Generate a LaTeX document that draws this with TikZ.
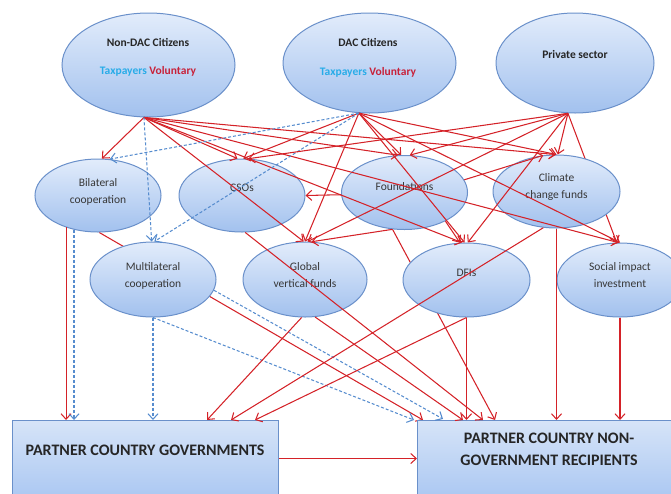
\documentclass[tikz,border=0pt]{standalone}
\usepackage{fontspec}
\setmainfont{Carlito}
\usetikzlibrary{shapes.geometric,arrows.meta,calc}
\pgfdeclarelayer{background}
\pgfsetlayers{background,main}
\definecolor{lred}{RGB}{212,34,40}
\definecolor{lblue}{RGB}{86,140,206}
\definecolor{eborder}{RGB}{106,144,202}
\definecolor{etop}{RGB}{226,236,251}
\definecolor{ebot}{RGB}{162,193,238}
\definecolor{btop}{RGB}{214,228,248}
\definecolor{bbot}{RGB}{172,200,242}
\definecolor{taxc}{RGB}{40,172,232}
\definecolor{volc}{RGB}{200,34,58}
\definecolor{txtc}{RGB}{55,55,55}
\tikzset{
  oval/.style={ellipse, draw=eborder, line width=1pt, top color=etop, bottom color=ebot, inner sep=0pt},
  pbox/.style={rectangle, draw=eborder, line width=1pt, top color=btop, bottom color=bbot, inner sep=0pt, anchor=north west},
  lbl/.style={font=\fontsize{11.5}{17}\selectfont, text=txtc, align=center},
  ttl/.style={font=\bfseries\fontsize{11.5}{14}\selectfont, text=black!85},
  big/.style={font=\bfseries\fontsize{16}{22}\selectfont, text=black!85, align=center},
  vol/.style={draw=lred, line width=1.05pt, -{Straight Barb[length=5.5pt,width=10pt]}},
  tax/.style={draw=lblue, line width=1.05pt, dash pattern=on 3pt off 2pt, -{Straight Barb[length=5.5pt,width=10pt]}},
}
\begin{document}
\begin{tikzpicture}[x=1pt,y=-1pt]
\useasboundingbox (0,0) rectangle (671,493);
% top row
\node[oval, minimum width=173pt, minimum height=104pt] (nd) at (148.5,65) {};
\node[oval, minimum width=173pt, minimum height=100pt] (dac) at (369.5,63) {};
\node[oval, minimum width=158pt, minimum height=100pt] (prv) at (575,63) {};
\node[ttl] (ndt1) at (148,42) {Non-DAC Citizens};
\node[ttl] (ndt2) at (148,71) {\textcolor{taxc}{Taxpayers} \textcolor{volc}{Voluntary}};
\node[ttl] (dact1) at (368,42) {DAC Citizens};
\node[ttl] (dact2) at (368,72) {\textcolor{taxc}{Taxpayers} \textcolor{volc}{Voluntary}};
\node[ttl] (prvt) at (575,55) {Private sector};
% middle row 1
\node[oval, minimum width=126pt, minimum height=73pt] (bil) at (98,195.5) {};
\node[oval, minimum width=126pt, minimum height=73pt] (cso) at (242,195.5) {};
\node[oval, minimum width=126pt, minimum height=74pt] (fnd) at (404.5,192.5) {};
\node[oval, minimum width=127pt, minimum height=73pt] (clim) at (556.5,191.5) {};
\node[lbl] (bilt) at (98,191.5) {Bilateral\\cooperation};
\node[lbl] (csot) at (242,188) {CSOs};
\node[lbl] (fndt) at (404.5,187) {Foundations};
\node[lbl] (climt) at (556.5,187) {Climate\\change funds};
% middle row 2
\node[oval, minimum width=126pt, minimum height=75pt] (mul) at (153,279.5) {};
\node[oval, minimum width=124pt, minimum height=75pt] (gvf) at (305,279.5) {};
\node[oval, minimum width=127pt, minimum height=74pt] (dfi) at (466.5,280) {};
\node[oval, minimum width=126pt, minimum height=74pt] (sii) at (620,280) {};
\node[lbl] (mult) at (153,275.5) {Multilateral\\cooperation};
\node[lbl] (gvft) at (305,275.5) {Global\\vertical funds};
\node[lbl] (dfit) at (466.5,273) {DFIs};
\node[lbl] (siit) at (620,275.5) {Social impact\\investment};
% boxes
\node[pbox, minimum width=266pt, minimum height=76pt] (pcg) at (12,420) {};
\node[pbox, minimum width=265pt, minimum height=76pt] (pcng) at (417,420) {};
\node[big] (pcgt) at (145,450) {PARTNER COUNTRY GOVERNMENTS};
\node[big] (pcngt) at (549,449) {PARTNER COUNTRY NON-\\GOVERNMENT RECIPIENTS};
% hidden connectors
\begin{pgfonlayer}{background}
\draw[vol] (bil.272) -- ($(pcng.north west)+(6,0)$);
\draw[vol] (fnd.252) -- ($(pcng.north west)+(78,0)$);
\draw[vol] (prv.262) -- (sii.95);
\end{pgfonlayer}
% from Non-DAC citizens
\draw[vol] (nd.265) -- (bil.84);
\draw[vol] (nd.265) -- (cso.97);
\draw[vol] (nd.265) -- (fnd.100);
\draw[vol] (nd.265) -- (clim.92);
\draw[vol] (nd.265) -- (gvf.92);
\draw[vol] (nd.265) -- (dfi.97);
\draw[vol] (nd.265) -- (sii.93);
\draw[tax] (nd.265) -- (mul.92);
% from DAC citizens
\draw[vol] (dac.258) -- (cso.88);
\draw[vol] (dac.258) -- (fnd.95);
\draw[vol] (dac.258) -- (clim.90);
\draw[vol] (dac.258) -- (gvf.90);
\draw[vol] (dac.258) -- (dfi.93);
\draw[vol] (dac.258) -- (sii.90);
\draw[tax] (dac.258) -- (bil.72);
\draw[tax] (dac.258) -- (mul.88);
% from private sector
\draw[vol] (prv.262) -- (cso.80);
\draw[vol] (prv.262) -- (fnd.82);
\draw[vol] (prv.262) -- (clim.88);
\draw[vol] (prv.262) -- (gvf.86);
\draw[vol] (prv.262) -- (dfi.88);
% between intermediaries
\draw[vol] (fnd.182) -- (cso.east);
\draw[vol] (fnd.12) -- (clim.110);
\draw[vol] (fnd.252) -- (gvf.80);
\draw[vol] (fnd.325) -- (dfi.100);
% to recipients
\draw[vol] (bil.225) -- (bil.225 |- pcg.north);
\draw[tax] (bil.235) -- (bil.235 |- pcg.north);
\draw[tax] (mul.south) -- (mul.south |- pcg.north);
\draw[tax] (mul.south) -- ($(pcng.north west)+(-3,0)$);
\draw[tax] (mul.350) -- ($(pcng.north west)+(26,-1)$);
\draw[vol] (gvf.265) -- ($(pcg.north west)+(195,0)$);
\draw[vol] (gvf.285) -- ($(pcng.north west)+(46,0)$);
\draw[vol] (cso.275) -- ($(pcng.north west)+(66,0)$);
\draw[vol] (clim.250) -- ($(pcg.north west)+(219,0)$);
\draw[vol] (dfi.270) -- ($(pcg.north west)+(243,0)$);
\draw[vol] (dfi.south) -- (dfi.south |- pcng.north);
\draw[vol] (clim.south) -- (clim.south |- pcng.north);
\draw[vol] (sii.south) -- (sii.south |- pcng.north);
\draw[vol] (pcg.east) -- (pcng.west);
\end{tikzpicture}
\end{document}
